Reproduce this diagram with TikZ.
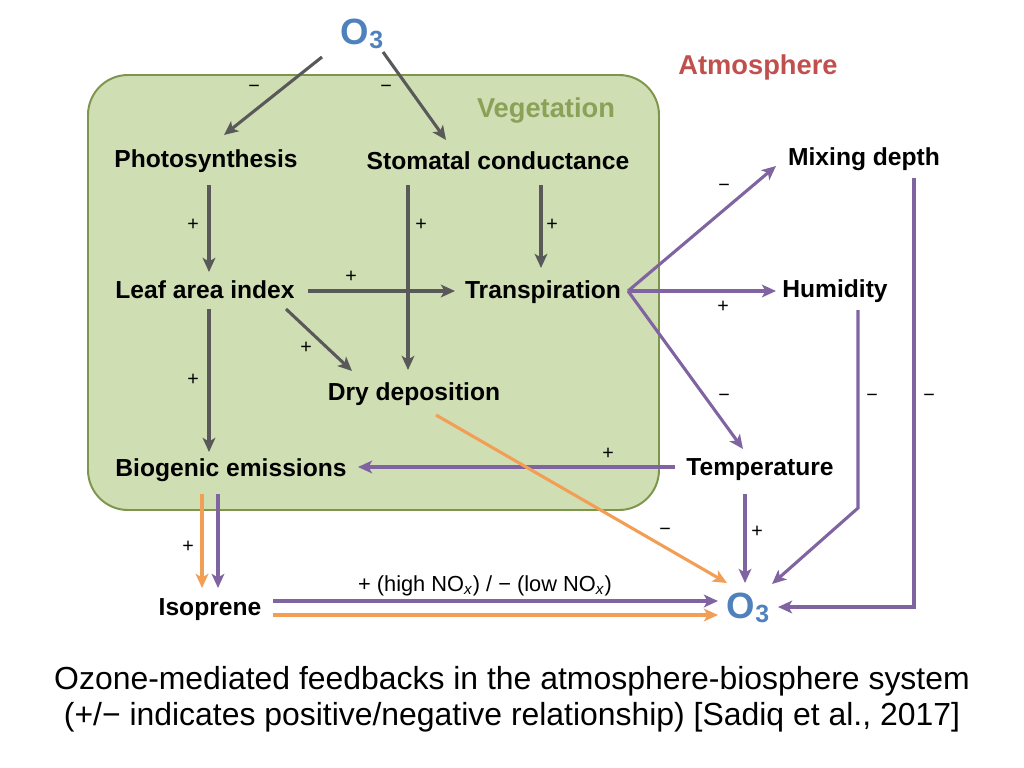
\documentclass[tikz,border=0pt]{standalone}
\usepackage{fontspec}
\setmainfont{Liberation Sans}
\usepackage{tikz}
\usetikzlibrary{arrows.meta,calc}
\usepackage{xcolor}

\definecolor{vegfill}{RGB}{208,222,180}
\definecolor{vegline}{RGB}{126,150,76}
\definecolor{vegtext}{RGB}{138,162,88}
\definecolor{atmotext}{RGB}{192,80,77}
\definecolor{ozblue}{RGB}{79,129,189}
\definecolor{arrgray}{RGB}{89,89,89}
\definecolor{arrpurple}{RGB}{128,100,162}
\definecolor{arrorange}{RGB}{243,158,85}

\newcommand{\ozone}[1]{{\fontsize{#1}{#1}\selectfont\bfseries\color{ozblue}O\raisebox{-0.22ex}{\fontsize{0.68\dimexpr#1pt\relax}{1pt}\selectfont 3}}}

\begin{document}
\begin{tikzpicture}[x=0.025cm,y=-0.025cm,
  every node/.style={font=\bfseries\fontsize{17.5}{20}\selectfont,inner sep=0pt},
  sgn/.style={font=\fontsize{14}{16}\selectfont},
  tip/.style={-{Stealth[length=10pt,width=9pt,inset=2.5pt]}},
  gar/.style={tip,draw=arrgray,line width=2.2pt},
  par/.style={tip,draw=arrpurple,line width=2.2pt},
  oar/.style={tip,draw=arrorange,line width=2.2pt}]
\useasboundingbox (0,0) rectangle (1024,768);
% vegetation box
\draw[fill=vegfill,draw=vegline,line width=1.4pt,rounded corners=1cm] (88,75) rectangle (659,510);
\node[text=vegtext,font=\bfseries\fontsize{19.4}{22}\selectfont] (veg) at (546,111) {Vegetation};
\node[text=atmotext,font=\bfseries\fontsize{19.4}{22}\selectfont] (atmo) at (758,67) {Atmosphere};

% quantities
\node (o3a) at (362,34) {\ozone{26}};
\node (photo) at (206,161) {Photosynthesis};
\node (stom) at (498,161) {Stomatal conductance};
\node (lai) at (205,290) {Leaf area index};
\node (transp) at (543,292) {Transpiration};
\node (dry) at (414,394) {Dry deposition};
\node (bio) at (231,470) {Biogenic emissions};
\node (mix) at (864,159) {Mixing depth};
\node (hum) at (835,291) {Humidity};
\node (temp) at (760,470) {Temperature};
\node (iso) at (210,610) {Isoprene};
\node (o3b) at (748,608) {\ozone{26}};

% vegetation links
\draw[gar] ([shift={(-40,23)}]o3a.center) -- ([shift={(18,-26)}]photo.center);
\draw[gar] ([shift={(21,18)}]o3a.center) -- ([shift={(-52,-21)}]stom.center);
\draw[gar] ([shift={(3,24)}]photo.center) -- ([shift={(4,-18)}]lai.center);
\draw[gar] ([shift={(43,24)}]stom.center) -- ([shift={(-2,-24)}]transp.center);
\draw[gar] ([shift={(-90,24)}]stom.center) -- ([shift={(-6,-24)}]dry.center);
\draw[gar] ([shift={(103,1)}]lai.center) -- ([shift={(-88,-1)}]transp.center);
\draw[gar] ([shift={(81,19)}]lai.center) -- ([shift={(-62,-23)}]dry.center);
\draw[gar] ([shift={(4,19)}]lai.center) -- ([shift={(-22,-18)}]bio.center);

% atmosphere links
\draw[par] ([shift={(85,-1)}]transp.center) -- ([shift={(-88,7)}]mix.center);
\draw[par] ([shift={(85,-1)}]transp.center) -- ([shift={(-59,0)}]hum.center);
\draw[par] ([shift={(85,-1)}]transp.center) -- ([shift={(-17,-21)}]temp.center);
\draw[par] ([shift={(-85,-3)}]temp.center) -- ([shift={(127,-3)}]bio.center);
\draw[par] ([shift={(-15,24)}]temp.center) -- ([shift={(-3,-25)}]o3b.center);
\draw[par] ([shift={(23,19)}]hum.center) -- ([shift={(23,217)}]hum.center) -- ([shift={(24,-24)}]o3b.center);
\draw[par] ([shift={(50,19)}]mix.center) |- ([shift={(30,-1)}]o3b.center);
\draw[oar] ([shift={(22,21)}]dry.center) -- ([shift={(-21,-25)}]o3b.center);

% isoprene links
\draw[oar] ([shift={(-29,24)}]bio.center) -- ([shift={(-8,-22)}]iso.center);
\draw[par] ([shift={(-13,24)}]bio.center) -- ([shift={(8,-22)}]iso.center);
\draw[par] ([shift={(63,-9)}]iso.center) -- ([shift={(-30,-7)}]o3b.center);
\draw[oar] ([shift={(63,5)}]iso.center) -- ([shift={(-30,7)}]o3b.center);

% signs
\node[sgn] (s1) at (254,89) {−};
\node[sgn] (s2) at (386,89) {−};
\node[sgn] (s3) at (193,225) {+};
\node[sgn] (s4) at (421,225) {+};
\node[sgn] (s5) at (552,225) {+};
\node[sgn] (s6) at (351,277) {+};
\node[sgn] (s7) at (306,348) {+};
\node[sgn] (s8) at (193,380) {+};
\node[sgn] (s9) at (724,188) {−};
\node[sgn] (s10) at (723,307) {+};
\node[sgn] (s11) at (724,398) {−};
\node[sgn] (s12) at (872,398) {−};
\node[sgn] (s13) at (929,398) {−};
\node[sgn] (s14) at (608,454) {+};
\node[sgn] (s15) at (757,532) {+};
\node[sgn] (s16) at (665,532) {−};
\node[sgn] (s17) at (188,547) {+};
\node[font=\fontsize{15.5}{18}\selectfont] (nox) at (485,586) {+ (high NO\textsubscript{\textit{x}}) / − (low NO\textsubscript{\textit{x}})};

% caption
\node[font=\fontsize{22.7}{25.6}\selectfont,align=center] (cap) at (512,699) {Ozone-mediated feedbacks in the atmosphere-biosphere system\\(+/− indicates positive/negative relationship) [Sadiq et al., 2017]};
\end{tikzpicture}
\end{document}
